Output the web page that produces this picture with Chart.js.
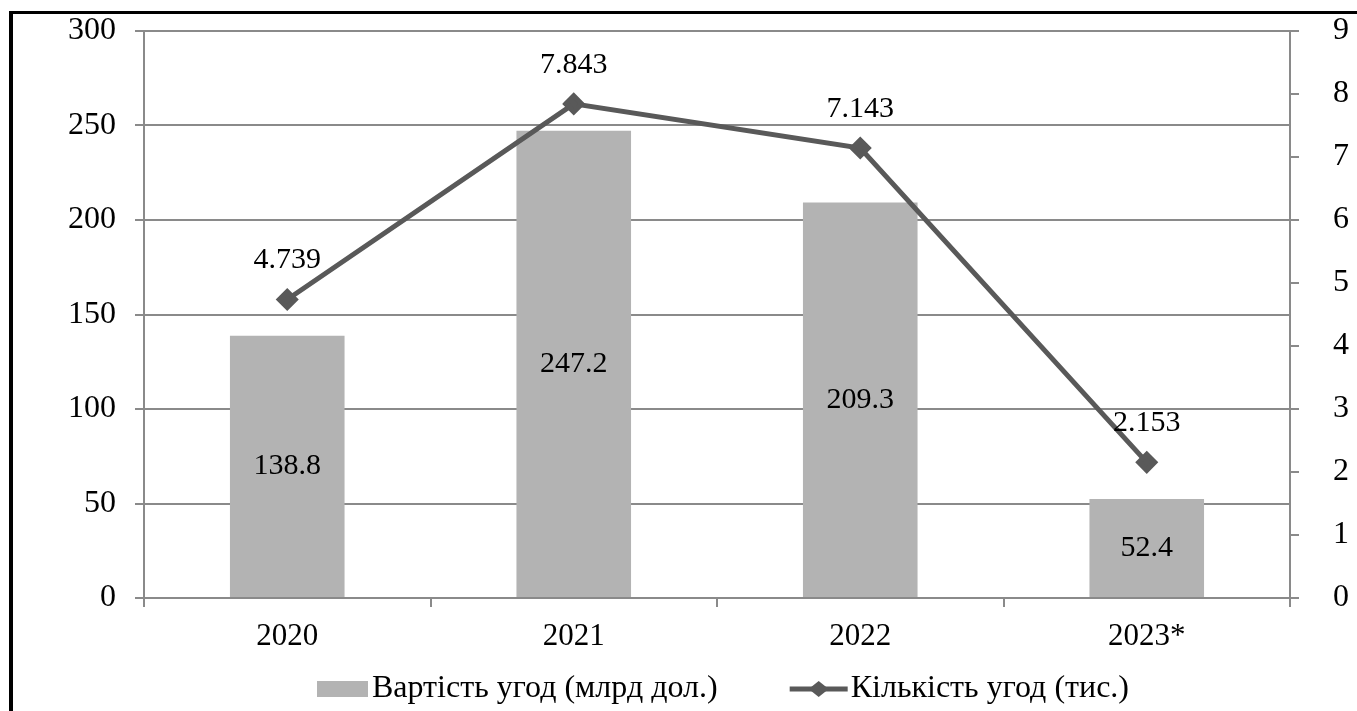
<!DOCTYPE html>
<html>
<head>
  <meta charset="utf-8">
  <title>Угоди</title>
  <script src="https://cdn.jsdelivr.net/npm/chart.js"></script>
  <style>
    body { margin: 0; background: #fff; overflow: hidden; }
    #wrap { position: relative; width: 1357px; height: 711px; }
    #frame { position: absolute; left: 9px; top: 11px; width: 1400px; height: 800px;
             border-left: 4px solid #000; border-top: 3px solid #000; pointer-events: none; }
  </style>
</head>
<body>
  <div id="wrap">
    <canvas id="chart" width="1357" height="711"></canvas>
    <div id="frame"></div>
  </div>

  <script>
    const years = ['2020', '2021', '2022', '2023*'];
    const dealValue = [138.8, 247.2, 209.3, 52.4];   // млрд дол.
    const dealCount = [4.739, 7.843, 7.143, 2.153];  // тис.
    const valueLabel = 'Вартість угод (млрд дол.)';
    const countLabel = 'Кількість угод (тис.)';

    const FONT = "'Liberation Serif', 'Times New Roman', serif";
    const BAR = '#b3b3b3', LINE = '#595959', GRID = '#8a8a8a';

    // value labels: bars in the middle, line points above
    const valueLabels = {
      id: 'valueLabels',
      afterDatasetsDraw(chart) {
        const ctx = chart.ctx;
        ctx.save();
        ctx.font = '30px ' + FONT;
        ctx.fillStyle = '#000';
        ctx.textAlign = 'center';
        ctx.textBaseline = 'middle';
        chart.getDatasetMeta(1).data.forEach((bar, i) => {
          ctx.fillText(String(dealValue[i]), bar.x, (bar.y + bar.base) / 2);
        });
        chart.getDatasetMeta(0).data.forEach((pt, i) => {
          ctx.fillText(dealCount[i].toFixed(3), pt.x, pt.y - 39);
        });
        ctx.restore();
      }
    };

    // legend drawn by hand so spacing matches
    const bottomLegend = {
      id: 'bottomLegend',
      afterDraw(chart) {
        const ctx = chart.ctx;
        const a = chart.chartArea;
        ctx.save();
        ctx.font = '32px ' + FONT;
        ctx.textBaseline = 'middle';
        const w1 = ctx.measureText(valueLabel).width;
        const w2 = ctx.measureText(countLabel).width;
        const total = 51 + 4 + w1 + 72 + 58 + 3 + w2;
        let x = (a.left + a.right) / 2 + 6 - total / 2;
        const y = 689;
        ctx.fillStyle = BAR;
        ctx.fillRect(x, y - 8, 51, 16);
        x += 55;
        ctx.fillStyle = '#000';
        ctx.fillText(valueLabel, x, y);
        x += w1 + 72;
        ctx.strokeStyle = LINE;
        ctx.lineWidth = 5;
        ctx.beginPath();
        ctx.moveTo(x, y);
        ctx.lineTo(x + 58, y);
        ctx.stroke();
        ctx.fillStyle = LINE;
        ctx.beginPath();
        ctx.moveTo(x + 29, y - 8);
        ctx.lineTo(x + 39, y);
        ctx.lineTo(x + 29, y + 8);
        ctx.lineTo(x + 19, y);
        ctx.closePath();
        ctx.fill();
        x += 61;
        ctx.fillStyle = '#000';
        ctx.fillText(countLabel, x, y);
        ctx.restore();
      }
    };

    const noPad = s => { s.paddingTop = 0; s.paddingBottom = 0; };

    new Chart(document.getElementById('chart'), {
      type: 'bar',
      data: {
        labels: years,
        datasets: [
          {
            type: 'line',
            label: countLabel,
            data: dealCount,
            yAxisID: 'y1',
            borderColor: LINE,
            backgroundColor: LINE,
            borderWidth: 5,
            pointStyle: 'rectRot',
            pointRadius: 8,
            pointHoverRadius: 8,
            tension: 0,
            order: 0
          },
          {
            label: valueLabel,
            data: dealValue,
            yAxisID: 'y',
            backgroundColor: BAR,
            barPercentage: 0.4,
            categoryPercentage: 1,
            order: 1
          }
        ]
      },
      options: {
        responsive: false,
        animation: false,
        events: [],
        layout: { padding: { top: 31, left: 0, right: 0, bottom: 60 } },
        plugins: { legend: { display: false }, tooltip: { enabled: false } },
        scales: {
          x: {
            offset: true,
            afterFit: s => { s.height = 53; },
            grid: { offset: true, drawOnChartArea: false, color: GRID, lineWidth: 2, tickLength: 9 },
            border: { color: GRID, width: 2 },
            ticks: { color: '#000', font: { family: FONT, size: 31 }, padding: 11 }
          },
          y: {
            position: 'left',
            min: 0, max: 300,
            afterFit: s => { s.width = 144; noPad(s); },
            grid: { color: GRID, lineWidth: 2, tickLength: 9 },
            border: { color: GRID, width: 2 },
            ticks: { stepSize: 50, color: '#000', font: { family: FONT, size: 32 }, padding: 19 }
          },
          y1: {
            position: 'right',
            min: 0, max: 9,
            afterFit: s => { s.width = 67; noPad(s); },
            grid: { drawOnChartArea: false, color: GRID, lineWidth: 2, tickLength: 9 },
            border: { color: GRID, width: 2 },
            ticks: { stepSize: 1, color: '#000', font: { family: FONT, size: 32 }, padding: 34 }
          }
        }
      },
      plugins: [valueLabels, bottomLegend]
    });
  </script>
</body>
</html>
